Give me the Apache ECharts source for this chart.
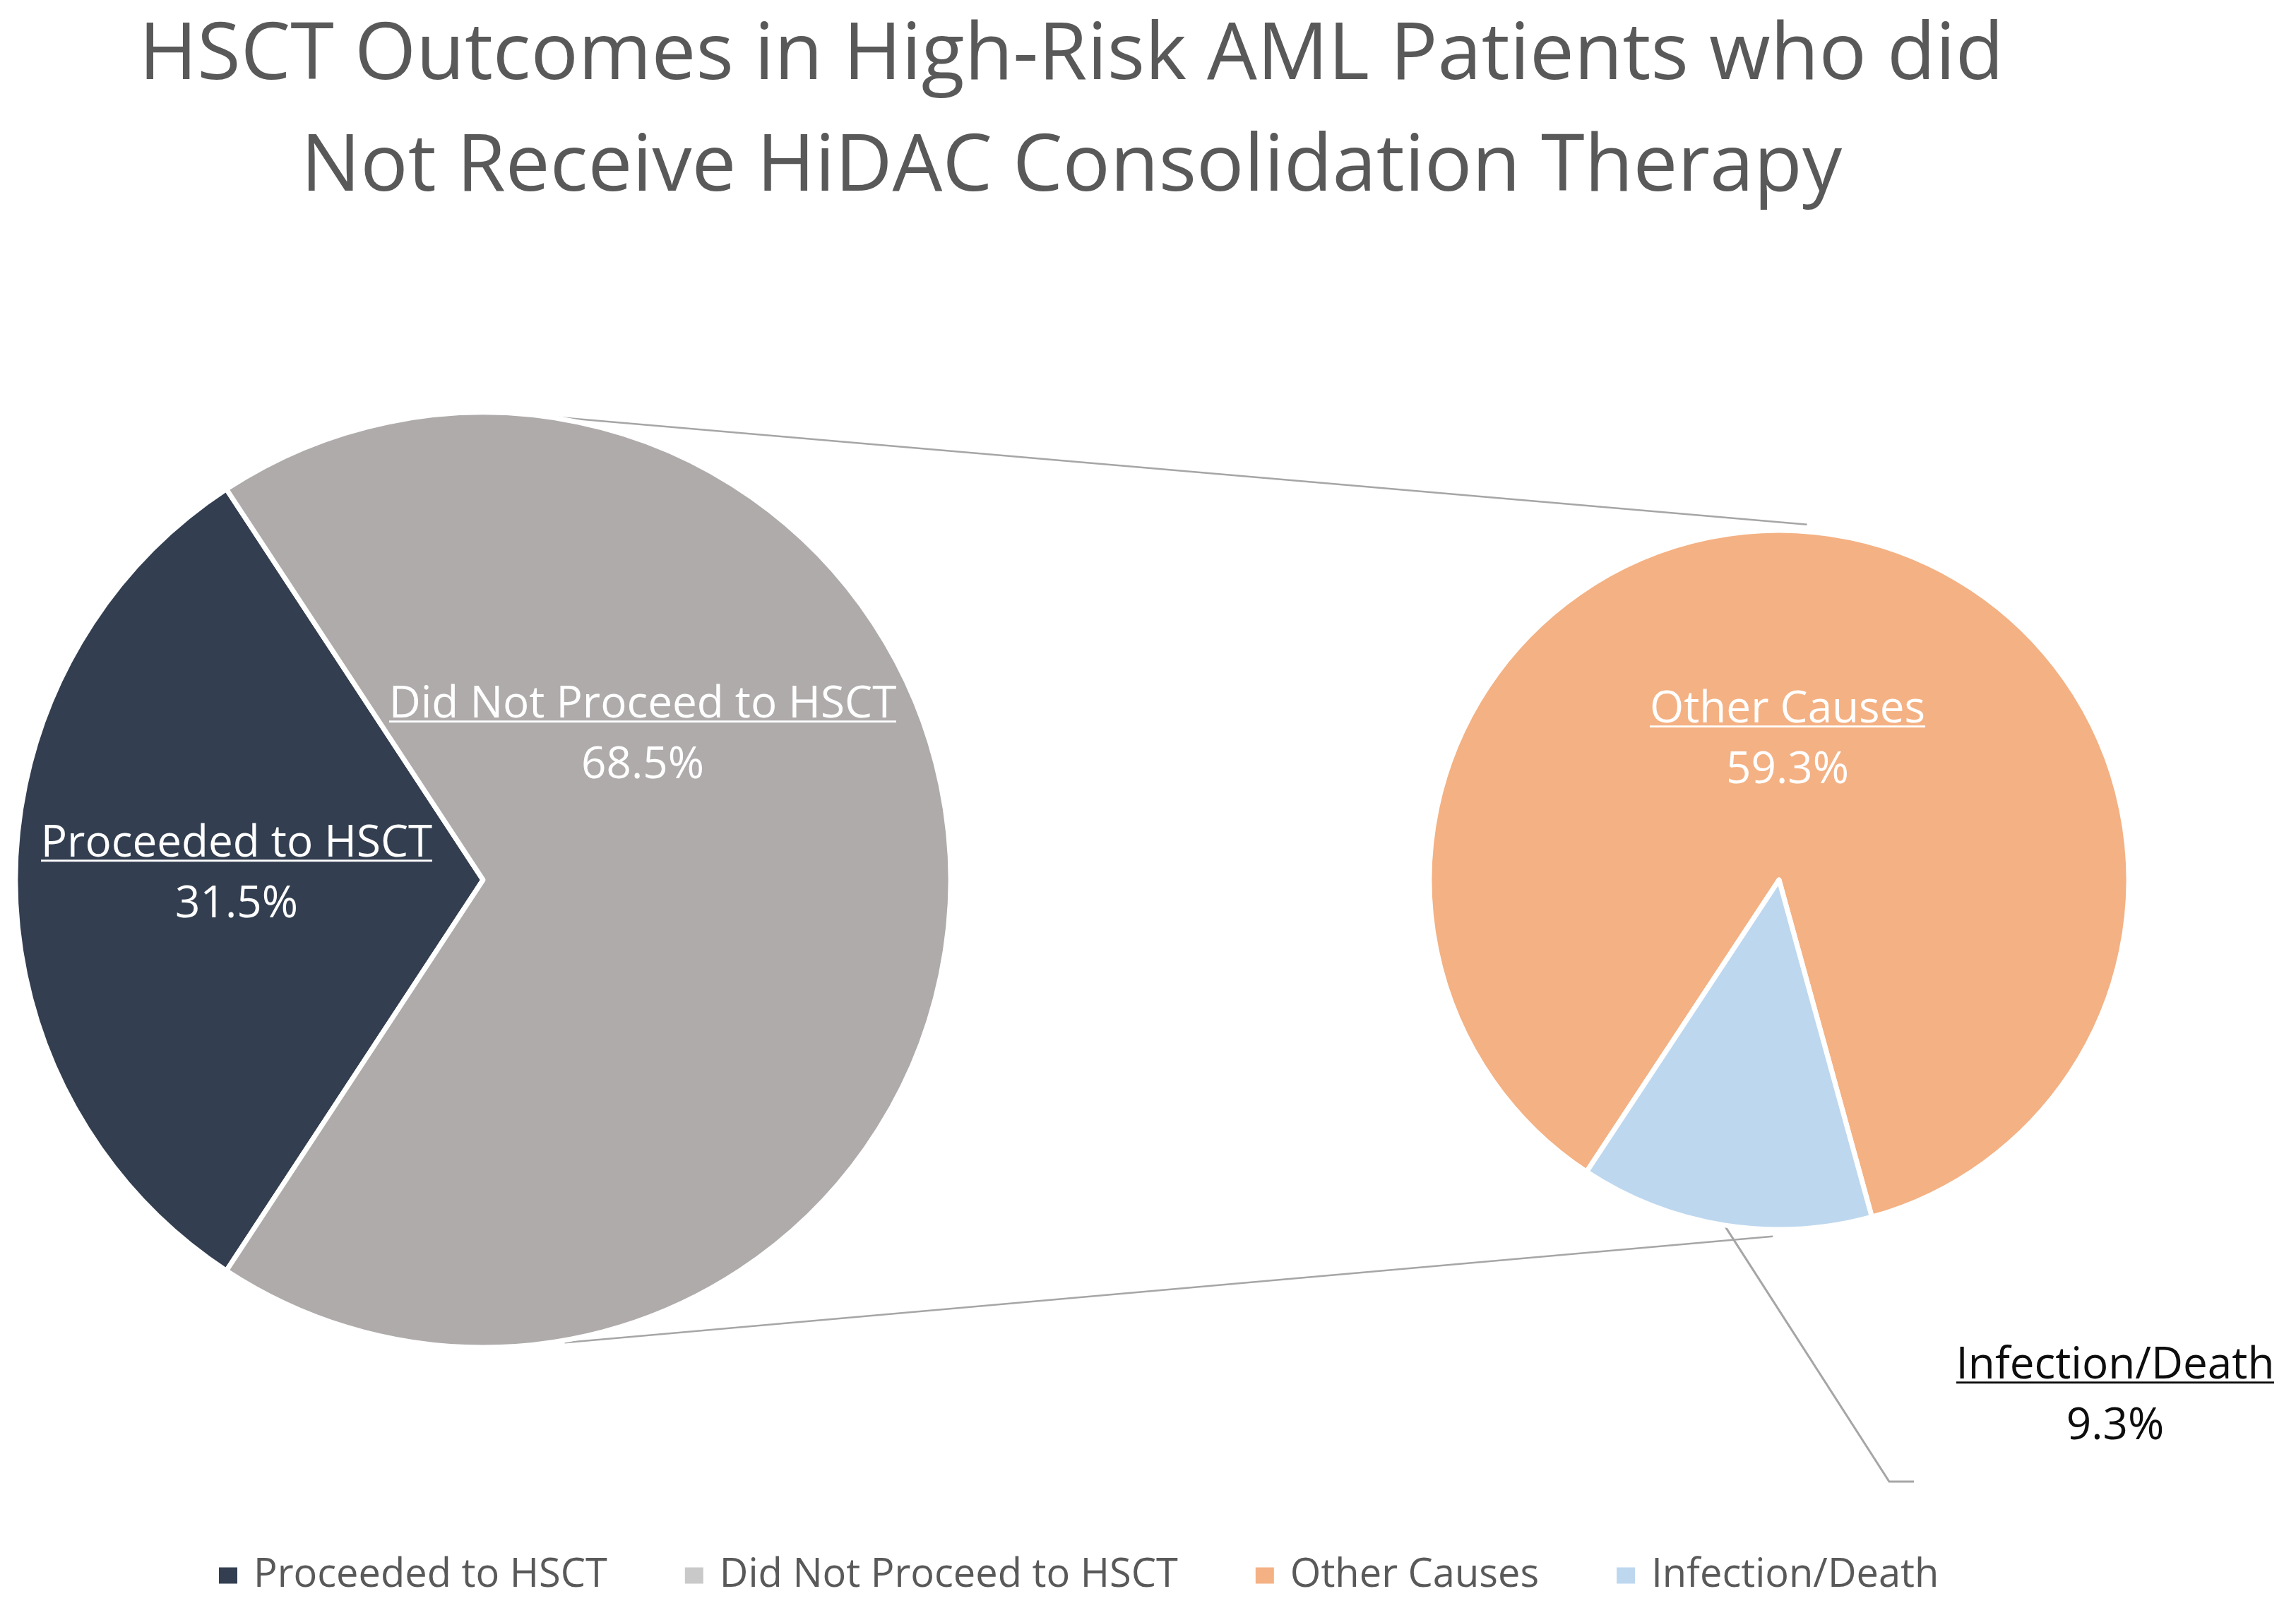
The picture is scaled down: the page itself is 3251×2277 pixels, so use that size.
<!DOCTYPE html>
<html><head><meta charset="utf-8">
<script src="https://cdn.jsdelivr.net/npm/echarts@6/dist/echarts.min.js"></script>
<style>html,body{margin:0;padding:0;background:#fff}#c{width:3251px;height:2277px}</style>
</head><body><div id="c"></div>
<script>
// ---- data ----
const titleLines = ['HSCT Outcomes in High-Risk AML Patients who did', 'Not Receive HiDAC Consolidation Therapy'];
const mainCategories = ['Proceeded to HSCT', 'Did Not Proceed to HSCT'];
const mainValues = [31.5, 68.5];
const subCategories = ['Other Causes', 'Infection/Death'];
const subValues = [59.3, 9.3];

// ---- style / layout ----
const FONT = "'Open Sans', 'Noto Sans', sans-serif";
const mainColors = ['#333F50', '#AFABAB'];
const subColors = ['#F4B183', '#BDD7EE'];
const legendColors = ['#333F50', '#C9C9C9', '#F4B183', '#BDD7EE'];
const MAIN = {cx: 684, cy: 1246, r: 662};
const SUB = {cx: 2519, cy: 1246, r: 495};
const LBL_FS = 62, LBL_LH = 86, UL_Y = 74, UL_T = 4;

function underline(color) {
  const c = document.createElement('canvas');
  c.width = 8; c.height = LBL_LH;
  const g = c.getContext('2d');
  g.fillStyle = color;
  g.fillRect(0, UL_Y, 8, UL_T);
  return c;
}
function richFor(color) {
  return {
    nm: {color: color, fontSize: LBL_FS, lineHeight: LBL_LH, fontFamily: FONT, backgroundColor: {image: underline(color)}},
    val: {color: color, fontSize: LBL_FS, lineHeight: LBL_LH, fontFamily: FONT}
  };
}
function fmt(p) { return '{nm|' + p.name + '}\n{val|' + p.value.toFixed(1) + '%}'; }

const mainSum = mainValues.reduce((a, b) => a + b, 0);
const subSum = subValues.reduce((a, b) => a + b, 0);
// main: first slice centred on the left (180deg)
const mainStart = 180 + (mainValues[0] / mainSum) * 180;
// sub: second slice centred at 261deg
const subStart = 261 - (subValues[1] / subSum) * 180;

const mainLabelPos = [[-349, -8], [226, -205]];
const subLabelPos = [[12, -198], [476, 731]];

function pt(c, ang, k) {
  const a = ang * Math.PI / 180;
  return [c.cx + c.r * k * Math.cos(a), c.cy - c.r * k * Math.sin(a)];
}
const topA = pt(MAIN, 83.5, 1), topB = pt(SUB, 85.5, 1.02);
const botA = pt(MAIN, -80, 1.005), botB = pt(SUB, -91, 1.02);
const subMid = pt(SUB, 261, 1);

const chart = echarts.init(document.getElementById('c'), null, {renderer: 'canvas'});
chart.setOption({
  animation: false,
  backgroundColor: '#FFFFFF',
  title: {
    text: titleLines.join('\n'),
    left: 1517, top: 1, padding: 0, textAlign: 'center',
    textStyle: {fontFamily: FONT, fontSize: 112, lineHeight: 158, fontWeight: 'normal', color: '#595959'}
  },
  legend: {
    left: 308, top: 2203, padding: 0,
    icon: 'rect', itemWidth: 28, itemHeight: 25, itemGap: 108,
    data: mainCategories.concat(subCategories).map((n, i) => ({name: n, itemStyle: {color: legendColors[i]}})),
    textStyle: {fontFamily: FONT, fontSize: 56, color: '#595959', padding: [0, 0, 0, 17]}
  },
  graphic: [
    {type: 'line', z: 0, shape: {x1: topA[0], y1: topA[1], x2: topB[0], y2: topB[1]}, style: {stroke: '#A6A6A6', lineWidth: 2.5}},
    {type: 'line', z: 0, shape: {x1: botA[0], y1: botA[1], x2: botB[0], y2: botB[1]}, style: {stroke: '#A6A6A6', lineWidth: 2.5}}
  ],
  series: [
    {
      type: 'pie', z: 2,
      center: [MAIN.cx, MAIN.cy], radius: MAIN.r,
      startAngle: mainStart, clockwise: true,
      avoidLabelOverlap: false,
      emphasis: {disabled: true},
      itemStyle: {borderColor: '#FFFFFF', borderWidth: 7},
      label: {show: true, position: 'inside', formatter: fmt, rich: richFor('#FFFFFF')},
      labelLine: {show: false},
      labelLayout: function (p) {
        const o = mainLabelPos[p.dataIndex];
        return {x: MAIN.cx + o[0], y: MAIN.cy + o[1], align: 'center', verticalAlign: 'middle'};
      },
      data: mainCategories.map((n, i) => ({name: n, value: mainValues[i], itemStyle: {color: mainColors[i]}}))
    },
    {
      type: 'pie', z: 2,
      center: [SUB.cx, SUB.cy], radius: SUB.r,
      startAngle: subStart, clockwise: true,
      avoidLabelOverlap: false,
      emphasis: {disabled: true},
      itemStyle: {borderColor: '#FFFFFF', borderWidth: 7},
      label: {show: true, position: 'inside', formatter: fmt, rich: richFor('#FFFFFF')},
      labelLine: {show: false},
      labelLayout: function (p) {
        const o = subLabelPos[p.dataIndex];
        const res = {x: SUB.cx + o[0], y: SUB.cy + o[1], align: 'center', verticalAlign: 'middle'};
        if (p.dataIndex === 1) {
          res.labelLinePoints = [subMid, [SUB.cx + 156, SUB.cy + 852], [SUB.cx + 191, SUB.cy + 852]];
        }
        return res;
      },
      data: subCategories.map((n, i) => {
        const d = {name: n, value: subValues[i], itemStyle: {color: subColors[i]}};
        if (i === 1) {
          d.label = {position: 'outside', rich: richFor('#0D0D0D')};
          d.labelLine = {show: true, length: 60, length2: 30, lineStyle: {color: '#A6A6A6', width: 3}};
        }
        return d;
      })
    }
  ]
});
</script></body></html>
